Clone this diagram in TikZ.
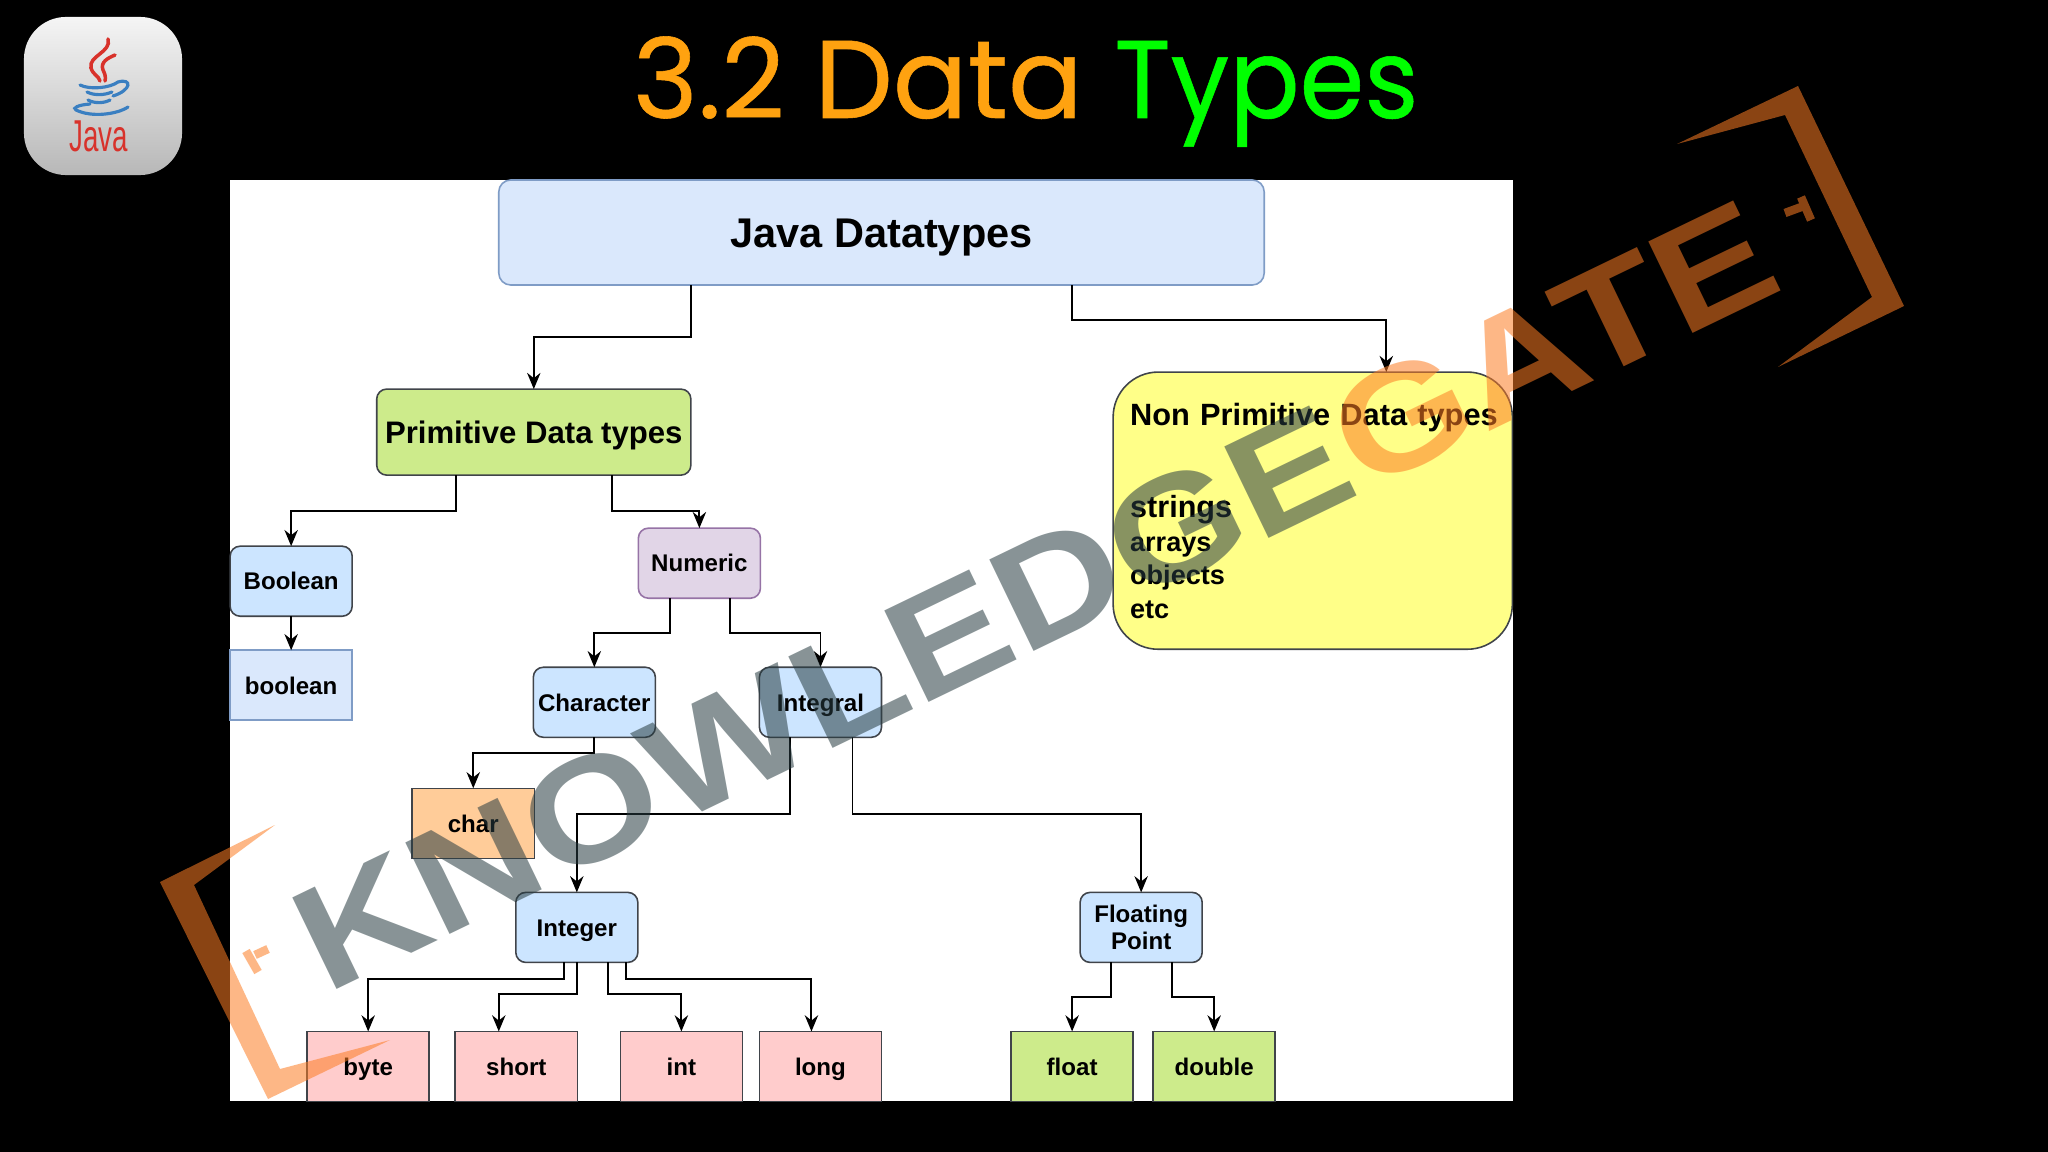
\documentclass[tikz,border=0pt]{standalone}
\usepackage{graphicx}
\usepackage{fontspec}
\usepackage{xcolor}
\setmainfont{Liberation Sans}
\newfontfamily\titlefont[FakeBold=0.5]{Poppins}
\definecolor{blueA}{HTML}{DAE8FC}
\definecolor{blueB}{HTML}{7F9CC6}
\definecolor{blueC}{HTML}{CCE5FF}
\definecolor{edgeC}{HTML}{40444A}
\definecolor{greenC}{HTML}{CDEB8B}
\definecolor{yellowC}{HTML}{FFFF88}
\definecolor{purpleC}{HTML}{E1D5E7}
\definecolor{purpleB}{HTML}{9673A6}
\definecolor{orangeC}{HTML}{FFCC99}
\definecolor{pinkC}{HTML}{FFCCCC}
\definecolor{markgray}{RGB}{40,60,65}
\definecolor{markorange}{RGB}{253,125,36}
\definecolor{logored}{HTML}{D8322B}
\definecolor{logoblue}{HTML}{3A7FC1}
\definecolor{titleorange}{HTML}{FFA210}
\usetikzlibrary{arrows.meta,positioning}
\begin{document}
\begin{tikzpicture}[
        x=0.01cm, y=-0.01cm,
        box/.style={draw=edgeC, line width=0.45pt, outer sep=0pt, inner sep=0pt, align=center, minimum width=1.22cm, minimum height=0.70cm, text height=5pt, text depth=0pt, font=\bfseries\fontsize{6.85}{7.8}\selectfont},
        roundbox/.style={box, rounded corners=0.1cm},
        arr/.style={-{Stealth[length=4.6pt, width=3.8pt]}, line width=0.55pt},
        markorangefill/.style={fill=markorange, fill opacity=0.55},
        marktext/.style={inner sep=0pt, outer sep=0pt, rotate=25.8, font=\bfseries\fontsize{42}{42}\selectfont, text opacity=0.55},
        titletext/.style={inner sep=0pt, anchor=base west, font=\titlefont\fontsize{31.5}{32}\selectfont}
    ]
        \useasboundingbox (0,0) rectangle (2048,1152);
        \fill[black] (0,0) rectangle (2048,1152);
        \fill[white] (230,180) rectangle (1513,1101);

        \node[titletext, text=titleorange] (title) at (632,118) {3.2 Data};
        \node[titletext, text=green] (titleb) at ([xshift=0.3cm]title.base east) {\scalebox{0.94}[1]{Types}};

        \node[rounded corners=0.42cm, minimum size=1.58cm, inner sep=0pt, top color=white!96!black, middle color=white!93!black, bottom color=black!28] (logo) at (103,96) {};
        \node[text=logored, inner sep=0pt, font=\fontsize{12.7}{12.7}\selectfont] (logotext) at (99,136) {\scalebox{0.62}[1]{Java}};
        \draw[logored, line width=1pt, line cap=round] (108,39) .. controls (112,52) and (88,56) .. (91,68) .. controls (93,75) and (99,76) .. (100,81);
        \draw[logored, line width=1pt, line cap=round] (115,55) .. controls (108,58) and (100,62) .. (103,70) .. controls (105,74) and (106,77) .. (105,81);
        \draw[logoblue, line width=0.9pt, line cap=round] (80,85) .. controls (90,90) and (110,88) .. (118,82) .. controls (132,78) and (132,90) .. (113,96);
        \draw[logoblue, line width=0.9pt, line cap=round] (87,92) .. controls (95,96) and (105,95) .. (112,92);
        \draw[logoblue, line width=0.9pt, line cap=round] (88,100) .. controls (95,104) and (105,103) .. (110,100);
        \draw[logoblue, line width=0.9pt, line cap=round] (90,104) .. controls (78,105) and (72,108) .. (76,110) .. controls (92,118) and (118,114) .. (128,107);

        \node[box, rounded corners=0.12cm, draw=blueB, fill=blueA, minimum width=7.65cm, minimum height=1.05cm, text height=8.6pt, font=\bfseries\fontsize{11.8}{13}\selectfont] (java) at (881.5,232.5) {Java Datatypes};
        \node[roundbox, fill=greenC, minimum width=3.14cm, minimum height=0.86cm, text height=6.2pt, font=\bfseries\fontsize{8.85}{10}\selectfont, below=1.04cm of java, xshift=-3.475cm] (prim) {Primitive Data types};
        \node[box, rounded corners=0.45cm, fill=yellowC, minimum width=3.99cm, minimum height=2.77cm, text width=3.65cm, inner xsep=0.17cm, align=left, text height=, text depth=, font=\bfseries\fontsize{8.75}{9.5}\selectfont, below=0.87cm of java, xshift=4.31cm] (nonprim) {\mbox{Non Primitive Data types}\\[16.9pt]\fontsize{8.7}{9.5}\selectfont strings\\\fontsize{7.7}{9.5}\selectfont arrays\\objects\\etc};
        \node[roundbox, fill=blueC, below=0.71cm of prim, xshift=-2.425cm] (boolean) {Boolean};
        \node[box, draw=blueB, fill=blueA, below=0.34cm of boolean] (boolval) {boolean};
        \node[roundbox, draw=purpleB, fill=purpleC, below=0.53cm of prim, xshift=1.655cm] (numeric) {Numeric};
        \node[roundbox, fill=blueC, below=0.69cm of numeric, xshift=-1.05cm] (character) {Character};
        \node[roundbox, fill=blueC, right=1.04cm of character] (integral) {Integral};
        \node[box, fill=orangeC, below=0.51cm of character, xshift=-1.21cm] (charval) {char};
        \node[roundbox, fill=blueC, below=1.55cm of integral, xshift=-2.435cm] (integer) {Integer};
        \node[roundbox, fill=blueC, text height=, text depth=, right=4.42cm of integer] (floating) {Floating\\Point};
        \node[box, fill=pinkC, below=0.69cm of integer, xshift=-2.085cm] (byteval) {byte};
        \node[box, fill=pinkC, right=0.26cm of byteval] (shortval) {short};
        \node[box, fill=pinkC, right=0.43cm of shortval] (intval) {int};
        \node[box, fill=pinkC, right=0.17cm of intval] (longval) {long};
        \node[box, fill=greenC, below=0.69cm of floating, xshift=-0.69cm] (floatval) {float};
        \node[box, fill=greenC, right=0.20cm of floatval] (doubleval) {double};

        \draw[arr] ([xshift=-1.905cm]java.south) -- ++(0,52) -| (prim.north);
        \draw[arr] ([xshift=1.905cm]java.south) -- ++(0,35) -| ([xshift=0.735cm]nonprim.north);
        \draw[arr] ([xshift=-0.78cm]prim.south) -- ++(0,36) -| (boolean.north);
        \draw[arr] ([xshift=0.78cm]prim.south) -- ++(0,36) -| (numeric.north);
        \draw[arr] (boolean) -- (boolval);
        \draw[arr] ([xshift=-0.295cm]numeric.south) -- ++(0,35) -| (character.north);
        \draw[arr] ([xshift=0.305cm]numeric.south) -- ++(0,35) -| (integral.north);
        \draw[arr] (character.south) -- ++(0,16) -| (charval.north);
        \draw[arr] ([xshift=-0.30cm]integral.south) -- ++(0,77) -| (integer.north);
        \draw[arr] ([xshift=0.32cm]integral.south) -- ++(0,77) -| (floating.north);
        \draw[arr] ([xshift=-0.125cm]integer.south) -- ++(0,17) -| (byteval.north);
        \draw[arr] (integer.south) -- ++(0,32) -| ([xshift=-0.175cm]shortval.north);
        \draw[arr] ([xshift=0.315cm]integer.south) -- ++(0,32) -| (intval.north);
        \draw[arr] ([xshift=0.495cm]integer.south) -- ++(0,17) -| ([xshift=-0.09cm]longval.north);
        \draw[arr] ([xshift=-0.30cm]floating.south) -- ++(0,35) -| (floatval.north);
        \draw[arr] ([xshift=0.31cm]floating.south) -- ++(0,35) -| (doubleval.north);

        \node[marktext, anchor=base west, text=markgray] (markleft) at (326,994) {\scalebox{1.18}[1]{KNOWLEDGE}};
        \node[marktext, anchor=base west, text=markorange] (markright) at (markleft.base east) {\scalebox{1.18}[1]{GATE}};
        \fill[markorangefill] (1677,144) -- (1798,86) -- (1904,306) -- (1778,367) -- (1872,297) -- (1785,115) -- cycle;
        \fill[markorangefill] (275,825) -- (160,882) -- (268,1099) -- (390,1040) -- (280,1069) -- (194,885) -- cycle;
        \draw[markorange, opacity=0.55, line width=2.4pt] (1801,197) -- (1811,220) (1785,213) -- (1804,206);
        \draw[markorange, opacity=0.55, line width=2.4pt] (246,951) -- (258,972) (255,955) -- (268,949);
    \end{tikzpicture}
\end{document}
